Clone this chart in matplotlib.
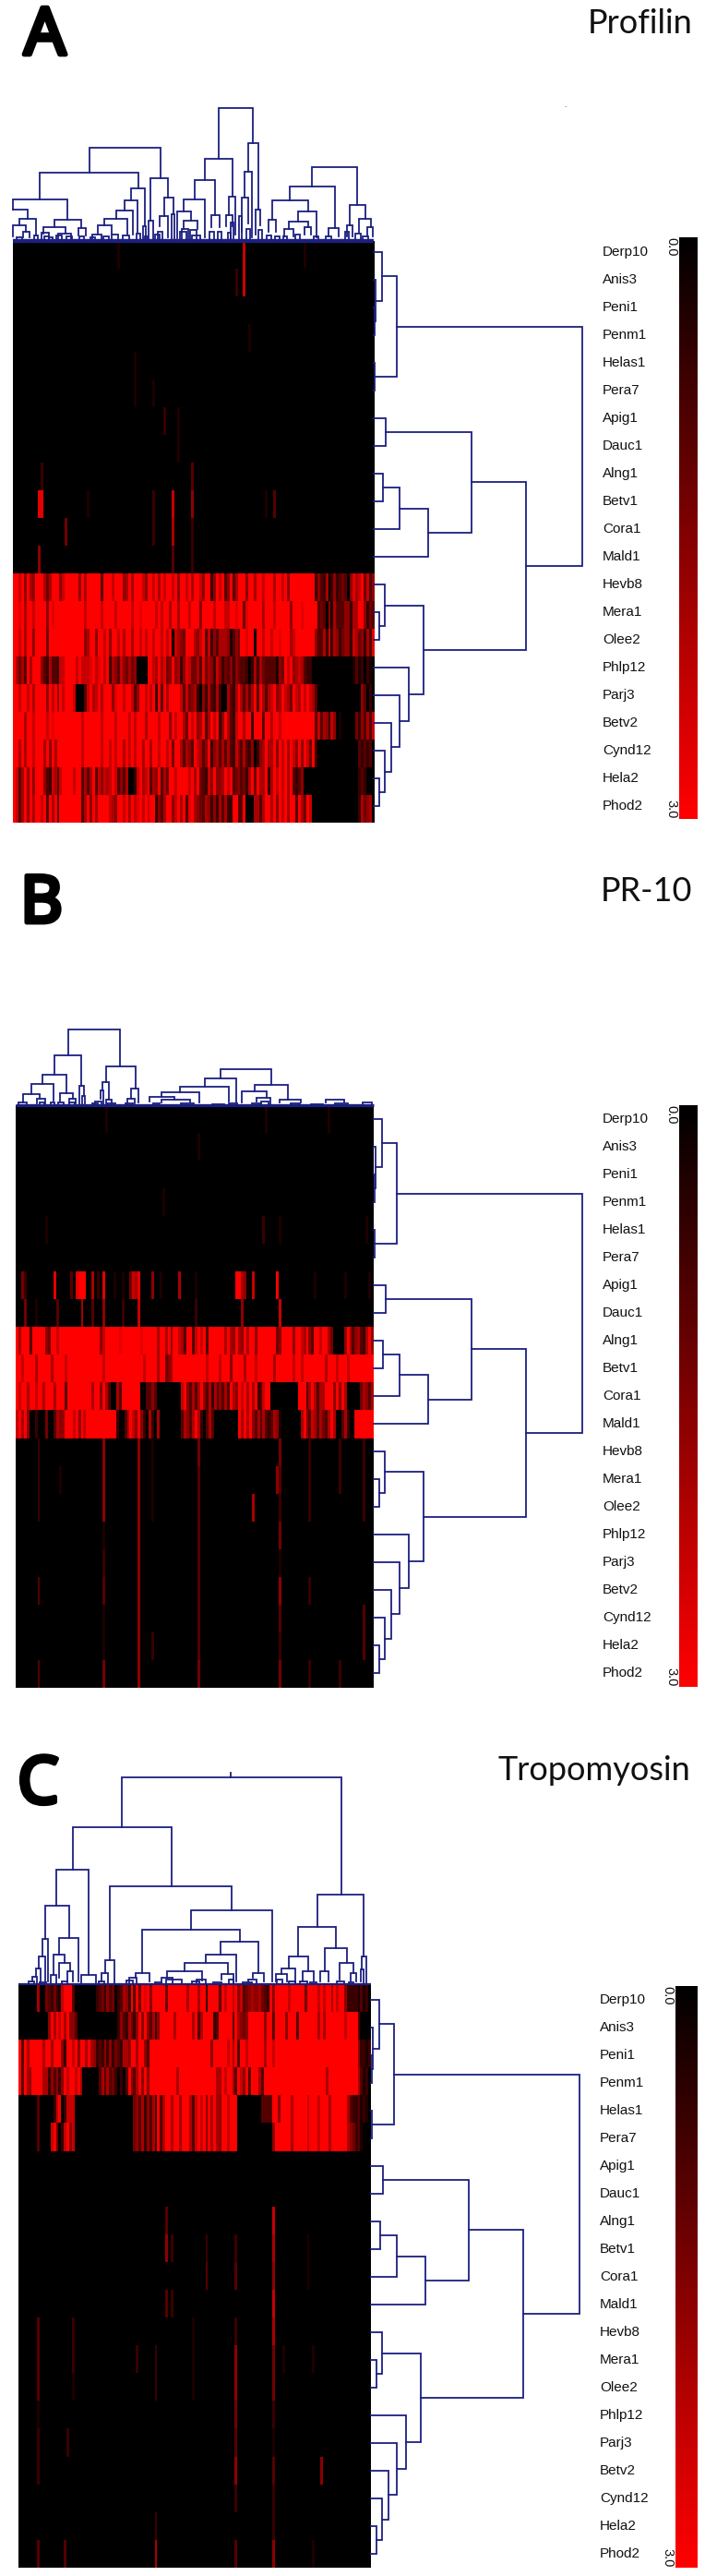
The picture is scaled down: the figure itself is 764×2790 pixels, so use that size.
import numpy as np
import matplotlib
matplotlib.use('Agg')
import matplotlib.pyplot as plt
import matplotlib.patheffects as pe
from matplotlib.colors import LinearSegmentedColormap
from matplotlib.cm import ScalarMappable
from matplotlib.colors import Normalize

W, H = 764, 2790
NCOLS = 132
NAVY = '#1b2080'
LW = 1.3

allergens = ['Derp10', 'Anis3', 'Peni1', 'Penm1', 'Helas1', 'Pera7', 'Apig1', 'Dauc1', 'Alng1', 'Betv1', 'Cora1',
             'Mald1', 'Hevb8', 'Mera1', 'Olee2', 'Phlp12', 'Parj3', 'Betv2', 'Cynd12', 'Hela2', 'Phod2']

# row tree, same in all panels: (child, child, height), new nodes count on from 21
row_merges = [(2, 3, 3), (1, 21, 5), (0, 22, 19), (4, 5, 3), (23, 24, 52), (6, 7, 27), (8, 9, 21), (27, 10, 58),
              (28, 11, 122), (26, 29, 218), (13, 14, 12), (12, 31, 24), (19, 20, 12), (18, 33, 24), (17, 34, 39),
              (16, 35, 58), (15, 36, 79), (32, 37, 110), (30, 38, 338), (25, 39, 464)]

# heatmap levels 0-9 per column, 9 = 3.0
a_rows = {
    12: "9979596599 9646999579 9999596999 9939997999 5696999759 9796979979 5997969975 9925979359 3699959969 9799969979 5999999999 2532602523 4305867947 35",
    13: "9989699799 9959899999 9999997999 9979999799 9997998999 9979799699 6999799959 9997999779 9899489999 9699979999 9599989999 9343051633 3552669952 43",
    14: "9979699599 9949999999 9999995699 5997959979 6996997979 9799797907 6549996579 3725366651 3549989909 9799799899 9679999999 5336272652 4552764526 38",
    15: "9646396999 5326332779 9997977789 7897926537 5464500009 9769684595 6258744638 4652752435 2543320262 6433331549 7956763220 0000000000 0000131202 10",
    16: "9979979699 9959795979 9970003796 7969995899 7997359979 7929396999 9737456205 2632620063 2696363693 9636795697 6497697976 3000000000 0000000530 20",
    17: "9999699799 9979899999 9999979999 9979999799 9979799969 9997999597 9964979569 3697925963 2799699299 9399699799 9999999999 3736527501 0000042536 37",
    18: "9969699799 9695969999 9999979999 9979979799 6979799699 6997997949 9636539763 5925636363 2753632502 5696695979 6975959749 2000000000 0000003232 30",
    19: "9736959599 9532763799 9979936369 3757679735 3600279679 3659364997 9999796943 2759556979 3453426949 6692697979 6932350000 0000000000 0000002320 00",
    20: "9736959699 7939693999 9999936959 6999976599 7969789797 9925369957 9693896543 6525263622 9933900066 3699695979 6993964970 0000000000 0000002645 60",
}
# (row, column, level) for the lone stripes
a_spots = [(0, 84, 7), (1, 84, 7), (0, 38, 1), (0, 106, 1), (1, 81, 2), (3, 86, 1), (4, 44, 1), (5, 44, 1), (5, 51, 1),
           (6, 55, 2), (6, 60, 1), (7, 60, 1), (8, 10, 2), (9, 9, 8), (9, 10, 8), (11, 9, 5), (10, 19, 4), (9, 58, 7),
           (10, 58, 6), (11, 58, 3), (8, 65, 3), (9, 65, 5), (10, 65, 2), (11, 65, 2), (9, 51, 2), (10, 51, 2),
           (9, 95, 3), (9, 92, 1), (9, 27, 1)]

b_rows = {
    8: "9699939999 9549979999 9999999999 9579999989 9999998999 9969969599 7639937979 3999999696 5965969959 9999994599 9959976953 9979964000 0596356326 95",
    9: "9979999699 9996999979 9999999999 9979999999 9999999799 9969945699 9999999999 7999979995 9999699979 9999969999 9979979999 9999699979 9979999999 99",
    10: "9799699799 6999699939 9999999969 9596300639 9999990033 5300000000 0795363695 3626353639 6597969692 3799000000 0000999369 6366999595 9600000465 36",
    11: "7969500200 0400365599 9795979999 9999999200 3697595206 2060000000 0365369620 3630000000 0096969536 3632365100 0000069537 6364369600 3620099999 99",
}
b_spots = [(6, 2, 4), (6, 3, 2), (6, 14, 8), (6, 20, 3), (6, 22, 8), (6, 23, 9), (6, 24, 9), (6, 25, 9), (6, 28, 6),
           (6, 30, 2), (6, 32, 8), (6, 36, 1), (6, 39, 1), (6, 42, 4), (6, 43, 7), (6, 44, 6), (6, 45, 8), (6, 50, 5),
           (6, 53, 1), (6, 60, 6), (6, 66, 1), (6, 81, 9), (6, 82, 9), (6, 83, 6), (6, 84, 5), (6, 87, 7), (6, 96, 9),
           (6, 110, 1), (6, 121, 1), (6, 130, 1),
           (7, 3, 4), (7, 7, 1), (7, 15, 3), (7, 24, 6), (7, 28, 3), (7, 32, 5), (7, 39, 2), (7, 45, 7), (7, 66, 2),
           (7, 83, 5), (7, 97, 7),
           (12, 32, 5), (13, 32, 5), (14, 32, 5), (15, 32, 1), (16, 32, 2), (17, 32, 3), (18, 32, 1), (19, 32, 1), (20, 32, 4),
           (12, 45, 5), (13, 45, 5), (14, 45, 5), (15, 45, 5), (16, 45, 5), (17, 45, 5), (18, 45, 5), (19, 45, 5), (20, 45, 5),
           (12, 67, 4), (13, 67, 3), (14, 67, 3), (15, 67, 3), (16, 67, 3), (17, 67, 3), (18, 67, 3), (19, 67, 3), (20, 67, 4),
           (12, 97, 4), (13, 97, 3), (14, 97, 2), (15, 97, 4), (16, 97, 1), (17, 97, 5), (18, 97, 3), (19, 97, 2), (20, 97, 4),
           (12, 8, 2), (13, 8, 2), (14, 8, 2), (17, 8, 3), (20, 8, 3), (13, 96, 5), (14, 87, 6),
           (12, 108, 2), (13, 108, 2), (14, 108, 2), (17, 108, 2), (20, 108, 2), (12, 119, 2), (13, 119, 2), (20, 119, 2),
           (12, 128, 2), (13, 128, 2), (14, 128, 2), (18, 128, 3), (19, 128, 3), (12, 50, 1), (13, 50, 1), (14, 50, 1),
           (19, 50, 2), (13, 16, 1), (0, 33, 1), (0, 92, 1), (0, 115, 1), (1, 67, 1), (3, 54, 1), (4, 91, 2), (4, 97, 1),
           (4, 11, 1), (4, 129, 1)]

c_rows = {
    0: "0000000600 4324217999 3000000002 3425340236 5293949895 9999949999 9996999699 2999939799 7957345655 6432959999 9799999499 9979799697 9952222131 20",
    1: "0000000000 0596979695 5300000000 0000000253 2642595953 6259999969 9999969369 9992399999 3965459999 9959939999 5999399999 9969699999 9979999300 00",
    2: "9396999996 9969995299 7959969652 3252524326 6599699539 9999999999 9999999999 9959999979 6939979999 9969979999 9999999999 9999999999 9999999522 12",
    3: "9396599996 6253525979 9796000000 3636342020 3953695959 9999999996 9999999999 9999669799 6397593999 6399999999 9999999999 9999969999 9999999631 20",
    4: "0000000300 0002790277 7000000000 0000000000 0004536253 6293699699 6999637979 5969659979 9900000000 0333399599 9969999979 9979996999 9996322312 10",
    5: "0000000300 0079402795 7000000000 0000000000 0004536253 6293699699 6999637979 5969659979 9900000000 0000059999 9969999979 9979996999 9996542310 00",
}
c_spots = [(8, 95, 7), (9, 95, 6), (10, 95, 5), (11, 95, 7), (12, 95, 6), (13, 95, 4), (14, 95, 4), (15, 95, 2), (16, 95, 1),
           (17, 95, 3), (18, 95, 2), (19, 95, 2), (20, 95, 5), (8, 55, 3), (9, 55, 5), (11, 55, 3), (9, 57, 2), (11, 57, 2),
           (9, 70, 2), (10, 70, 3), (9, 81, 2), (10, 81, 3), (12, 81, 2), (13, 81, 5), (14, 81, 5), (15, 81, 4), (16, 81, 3),
           (17, 81, 5), (18, 81, 2), (20, 81, 3), (12, 7, 3), (13, 7, 3), (14, 7, 3), (15, 7, 1), (16, 7, 2), (17, 7, 2),
           (20, 7, 3), (12, 20, 2), (13, 20, 2), (14, 20, 1), (13, 51, 2), (14, 51, 2), (19, 51, 2), (20, 51, 6), (13, 44, 2),
           (16, 18, 2), (20, 17, 3), (17, 113, 5), (13, 99, 1), (9, 108, 1), (10, 108, 1), (13, 110, 1), (20, 110, 1),
           (12, 65, 1), (13, 65, 1), (14, 65, 1)]

# top trees: (left, right, height, left leg ends at, right leg ends at)
a_links = [(710, 823, 433, 268, 318), (665, 755, 268, 198, 148), (633, 700, 198, 136, 83), (597, 665, 136, 96, 13),
           (575, 620, 96, 10, 65), (597, 642, 65, 38, 38), (688, 715, 83, 45, 45), (745, 765, 145, 83, 20),
           (735, 755, 83, 48, 48), (808, 840, 318, 226, 101), (795, 818, 226, 141, 13), (787, 808, 141, 30, 58),
           (832, 847, 101, 20, 50), (291, 521, 303, 221, 203), (129, 449, 221, 136, 171), (43, 219, 136, 101, 68),
           (43, 90, 101, 101, 73), (62, 118, 73, 50, 18), (42, 85, 50, 15, 30), (75, 95, 30, 12, 12),
           (178, 265, 68, 45, 41), (142, 212, 45, 23, 23), (255, 278, 41, 18, 18), (426, 470, 171, 131, 48),
           (404, 448, 131, 100, 28), (378, 432, 100, 73, 20), (340, 413, 73, 51, 21), (318, 362, 51, 23, 23),
           (465, 475, 48, 0, 0), (490, 547, 203, 65, 140), (482, 497, 65, 0, 0), (535, 565, 140, 81, 88),
           (520, 545, 81, 48, 13), (1015, 1160, 240, 176, 118), (943, 1088, 176, 131, 43), (885, 1002, 131, 70, 96),
           (873, 897, 70, 30, 30), (970, 1030, 96, 63, 13), (938, 1003, 63, 38, 45), (925, 955, 38, 15, 15),
           (990, 1012, 45, 20, 20), (1068, 1102, 43, 15, 15), (1137, 1187, 118, 51, 73), (1128, 1147, 51, 15, 15),
           (1168, 1205, 73, 28, 46), (1195, 1212, 46, 15, 15)]
a_twigs = [(55, 72, 12), (110, 122, 18), (135, 160, 28), (145, 158, 16), (160, 172, 12), (182, 200, 18), (190, 230, 23),
           (215, 235, 14), (258, 274, 16), (295, 308, 12), (300, 330, 22), (335, 355, 14), (362, 384, 22), (400, 420, 18),
           (443, 455, 24), (472, 480, 15), (505, 520, 20), (512, 528, 30), (558, 566, 88), (585, 605, 30), (590, 612, 38),
           (618, 640, 35), (625, 650, 18), (680, 695, 30), (708, 720, 30), (740, 750, 28), (750, 758, 60), (778, 786, 80),
           (800, 812, 40), (840, 852, 35), (868, 882, 18), (895, 908, 14), (920, 932, 14), (960, 975, 20), (1020, 1036, 14),
           (1060, 1078, 14), (1122, 1134, 30), (1155, 1172, 24), (1180, 1198, 14)]

b_links = [(224, 391, 246, 162, 126), (179, 266, 162, 99, 63), (139, 216, 99, 68, 40), (102, 175, 68, 36, 14),
           (75, 130, 36, 8, 22), (122, 148, 22, 6, 6), (196, 238, 40, 11, 21), (226, 246, 21, 6, 6), (259, 273, 63, 0, 31),
           (268, 278, 31, 0, 0), (345, 441, 126, 74, 54), (333, 355, 74, 48, 18), (328, 336, 48, 22, 0), (345, 365, 18, 6, 6),
           (428, 450, 54, 21, 8), (415, 440, 21, 6, 6), (718, 881, 118, 86, 66), (665, 768, 86, 59, 8), (587, 743, 59, 41, 11),
           (525, 648, 41, 28, 8), (488, 567, 28, 11, 18), (525, 620, 18, 8, 8), (827, 935, 66, 44, 18), (787, 868, 44, 8, 24),
           (835, 880, 24, 12, 0), (908, 978, 18, 8, 8), (1060, 1118, 18, 8, 8), (1180, 1210, 8, 0, 0)]
b_twigs = [(62, 88, 8), (130, 145, 9), (165, 178, 8), (190, 208, 8), (225, 245, 8), (300, 320, 6), (310, 330, 12), (350, 375, 6),
           (410, 432, 6), (500, 520, 5), (590, 630, 7), (690, 730, 4), (745, 770, 6), (820, 850, 7), (850, 872, 12),
           (945, 975, 6), (1010, 1050, 4), (1090, 1130, 6)]

c_links = [(395, 1110, 672, 510, 290), (237, 557, 510, 371, 317), (183, 287, 371, 254, 30), (263, 311, 30, 0, 0),
           (147, 224, 254, 146, 150), (138, 156, 146, 91, 9), (125, 147, 91, 51, 9), (116, 133, 51, 25, 0),
           (106, 121, 25, 10, 0), (192, 255, 150, 97, 8), (174, 211, 97, 29, 69), (192, 229, 69, 22, 42), (220, 238, 42, 10, 10),
           (166, 182, 29, 0, 0), (358, 755, 317, 79, 240), (341, 373, 79, 37, 0), (331, 350, 37, 10, 0), (620, 885, 240, 177, 8),
           (462, 782, 177, 37, 137), (440, 486, 37, 22, 10), (718, 840, 137, 97, 37), (669, 770, 97, 69, 8), (601, 743, 69, 43, 33),
           (543, 658, 43, 22, 12), (722, 760, 33, 14, 0), (822, 859, 37, 22, 10), (1034, 1183, 290, 186, 91),
           (970, 1092, 186, 91, 118), (939, 1002, 91, 51, 42), (917, 961, 51, 33, 0), (899, 935, 33, 10, 10), (985, 1021, 42, 10, 10),
           (1056, 1129, 118, 42, 69), (1042, 1070, 42, 10, 10), (1106, 1151, 69, 15, 37), (1142, 1160, 37, 10, 10),
           (1178, 1192, 91, 47, 0), (1173, 1183, 47, 10, 0)]
c_twigs = [(92, 112, 8), (130, 150, 6), (200, 220, 8), (320, 340, 8), (410, 432, 12), (420, 445, 22), (505, 525, 6),
           (525, 560, 22), (540, 590, 14), (625, 650, 8), (640, 670, 14), (695, 720, 5), (745, 760, 14), (790, 820, 6),
           (808, 835, 14), (900, 920, 14), (940, 960, 8), (975, 1000, 10), (1010, 1030, 6), (1095, 1120, 10), (1135, 1150, 6)]

panels = [
    {'letter': 'A', 'title': 'Profilin', 'rows': a_rows, 'spots': a_spots, 'links': a_links, 'twigs': a_twigs,
     'heat': (14, 261, 391, 630), 'tree': (14, 110, 391, 151), 'xlim': (42, 1215), 'hmax': 453, 'base': 3.2,
     'right': (405, 273), 'label_x': 653, 'bar': (736, 257, 20, 630), 'letter_xy': (26, 59), 'title_xy': (750, 36)},
    {'letter': 'B', 'title': 'PR-10', 'rows': b_rows, 'spots': b_spots, 'links': b_links, 'twigs': b_twigs,
     'heat': (17, 1197, 388, 631), 'tree': (17, 1105, 388, 92), 'xlim': (52, 1215), 'hmax': 276, 'base': 2.4,
     'right': (405, 1212), 'label_x': 653, 'bar': (736, 1197, 20, 630), 'letter_xy': (22, 999), 'title_xy': (750, 976)},
    {'letter': 'C', 'title': 'Tropomyosin', 'rows': c_rows, 'spots': c_spots, 'links': c_links, 'twigs': c_twigs,
     'heat': (20, 2149, 382, 632), 'tree': (20, 1910, 382, 239), 'xlim': (60, 1207), 'hmax': 717, 'base': 1.6,
     'right': (402, 2166), 'label_x': 650, 'bar': (732, 2151, 24, 630), 'letter_xy': (19, 1953), 'title_xy': (748, 1928)},
]

plt.rcParams['font.family'] = ['Lato', 'DejaVu Sans']
cmap = LinearSegmentedColormap.from_list('blackred', ['#000000', '#ff0000'])


def px_axes(fig, x, y, w, h):
    ax = fig.add_axes([x / W, 1 - (y + h) / H, w / W, h / H])
    ax.axis('off')
    return ax


def build_matrix(rows, spots):
    m = np.zeros((len(allergens), NCOLS))
    for r, s in rows.items():
        s = s.replace(' ', '').ljust(NCOLS, '0')[:NCOLS]
        m[r] = [int(c) for c in s]
    for r, c, lvl in spots:
        m[r, c] = lvl
    return m / 9 * 3.0


def draw_row_tree(ax):
    pos = {i: float(i) for i in range(len(allergens))}
    hts = {i: 0 for i in range(len(allergens))}
    node = len(allergens)
    for a, b, h in row_merges:
        ax.plot([hts[a], h, h, hts[b]], [pos[a], pos[a], pos[b], pos[b]], color=NAVY, lw=LW, clip_on=False,
                solid_joinstyle='miter')
        pos[node] = (pos[a] + pos[b]) / 2
        hts[node] = h
        node += 1


fig = plt.figure(figsize=(W / 100, H / 100), dpi=100)

for p in panels:
    # heatmap
    ax = px_axes(fig, *p['heat'])
    ax.imshow(build_matrix(p['rows'], p['spots']), cmap=cmap, vmin=0, vmax=3, aspect='auto', interpolation='nearest')

    # column tree
    ax = px_axes(fig, *p['tree'])
    ax.set_xlim(*p['xlim'])
    ax.set_ylim(0, p['hmax'])
    for x1, x2, h, h1, h2 in p['links']:
        ax.plot([x1, x1, x2, x2], [h1, h, h, h2], color=NAVY, lw=LW, clip_on=False, solid_joinstyle='miter')
    for x1, x2, h in p['twigs']:
        ax.plot([x1, x1, x2, x2], [0, h, h, 0], color=NAVY, lw=LW, clip_on=False, solid_joinstyle='miter')
    ax.plot(p['xlim'], [0, 0], color=NAVY, lw=p['base'], clip_on=False, solid_capstyle='butt')
    if p['letter'] == 'C':
        ax.plot([750, 750], [672, 687], color=NAVY, lw=LW, clip_on=False)

    # row tree
    rx, ry = p['right']
    ax = px_axes(fig, rx, ry - 15, 226, 630)
    ax.set_xlim(0, 464)
    ax.set_ylim(20.5, -0.5)
    draw_row_tree(ax)

    # row labels
    for i, name in enumerate(allergens):
        fig.text(p['label_x'] / W, 1 - (ry + 30 * i) / H, name, fontsize=11, color='#111111', va='center', ha='left',
                 family=['Liberation Sans', 'DejaVu Sans'])

    # colour scale
    bx, by, bw, bh = p['bar']
    cax = px_axes(fig, bx, by, bw, bh)
    cb = fig.colorbar(ScalarMappable(Normalize(0, 3), cmap), cax=cax)
    cb.outline.set_visible(False)
    cb.set_ticks([])
    cax.invert_yaxis()
    fig.text((bx - 9) / W, 1 - (by + 10) / H, '0.0', fontsize=10.5, rotation=-90, va='center', ha='center', color='#111111',
             family=['Liberation Sans', 'DejaVu Sans'])
    fig.text((bx - 9) / W, 1 - (by + bh - 11) / H, '3.0', fontsize=10.5, rotation=-90, va='center', ha='center', color='#111111',
             family=['Liberation Sans', 'DejaVu Sans'])

    # panel letter and title, the stroke makes the regular face heavy without widening it much
    lx, ly = p['letter_xy']
    t = fig.text(lx / W, 1 - ly / H, p['letter'], fontsize=51, va='baseline', ha='left', color='black',
                 family=['Noto Sans', 'DejaVu Sans'])
    t.set_path_effects([pe.withStroke(linewidth=3.5, foreground='black')])
    tx, ty = p['title_xy']
    fig.text(tx / W, 1 - ty / H, p['title'], fontsize=26, va='baseline', ha='right', color='#111111')

# stray speck near the top of the first panel
fig.text(613 / W, 1 - 114 / H, '.', fontsize=7, ha='center', va='center', color='#222222')

fig.savefig('out.png', dpi=100)
